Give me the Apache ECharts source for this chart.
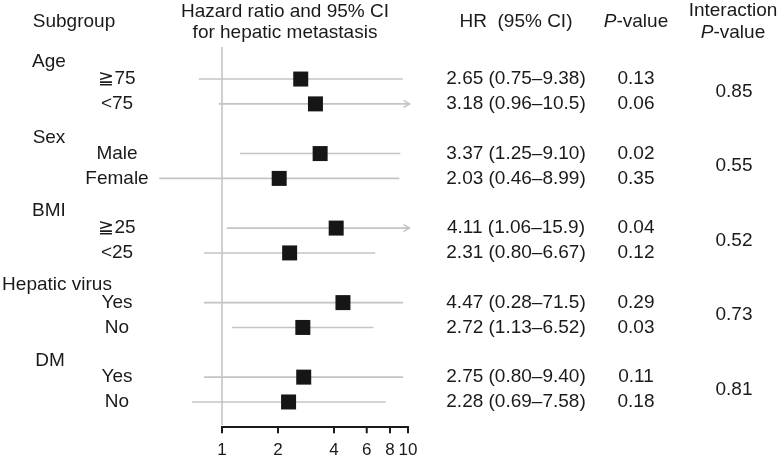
<!DOCTYPE html>
<html>
<head>
<meta charset="utf-8">
<script src="https://cdn.jsdelivr.net/npm/echarts@6/dist/echarts.min.js"></script>
<style>
html,body{margin:0;padding:0;background:#fff;}
#chart{width:778px;height:460px;}
</style>
</head>
<body>
<div id="chart"></div>
<script>
// ---- data ----
const groups = ['Age', 'Sex', 'BMI', 'Hepatic virus', 'DM'];
const groupRows = [-0.68, 2.35, 5.32, 8.3, 11.36];
const subgroups = ['≧75', '<75', 'Male', 'Female', '≧25', '<25', 'Yes', 'No', 'Yes', 'No'];
const rowIdx = [0, 1, 3, 4, 6, 7, 9, 10, 12, 13];
const hr = [2.65, 3.18, 3.37, 2.03, 4.11, 2.31, 4.47, 2.72, 2.75, 2.28];
// CI whiskers as drawn in the picture
const ciLow = [0.75, 0.96, 1.25, 0.46, 1.06, 0.80, 0.80, 1.13, 0.80, 0.69];
const ciHigh = [9.38, 10.5, 9.10, 8.99, 15.9, 6.67, 9.40, 6.52, 9.40, 7.58];
const hrText = ['2.65 (0.75–9.38)', '3.18 (0.96–10.5)', '3.37 (1.25–9.10)', '2.03 (0.46–8.99)',
  '4.11 (1.06–15.9)', '2.31 (0.80–6.67)', '4.47 (0.28–71.5)', '2.72 (1.13–6.52)',
  '2.75 (0.80–9.40)', '2.28 (0.69–7.58)'];
const pValues = ['0.13', '0.06', '0.02', '0.35', '0.04', '0.12', '0.29', '0.03', '0.11', '0.18'];
const interP = ['0.85', '0.55', '0.52', '0.73', '0.81'];
const interRows = [0.5, 3.5, 6.5, 9.5, 12.5];
const xTicks = [1, 2, 4, 6, 8, 10];

// ---- layout ----
const FONT = '"Liberation Sans", Arial, Helvetica, sans-serif';
const TXT = '#1a1a1a';
const GRAY = '#c4c4c4';
const AXIS_COLOR = '#1a1a1a';
const AX_LEFT = 222, AX_W = 186;      // pixel position of 1 and width of one decade
const X_MIN = 0.4, X_MAX = 12, AXIS_MIN = 1, AXIS_MAX = 10, ARROW_CAP = 10.2;
const Y_MIN = -1.29, Y_MAX = 14.37;   // row units (24.84 px per row)
const REF_END = 13.93, AXIS_ROW = 14.01, TICK_ROWS = 0.25;
const GRID_TOP = 47, GRID_H = 389;
const gridLeft = AX_LEFT + Math.log10(X_MIN) * AX_W;
const gridWidth = (Math.log10(X_MAX) - Math.log10(X_MIN)) * AX_W;
const groupX = [49, 49, 49, 57, 50];
const SUB_X = 117, HR_X = 516, P_X = 636, INT_X = 734;
const BODY = 19, HEAD = 19;
const AX_LW = 2;

const chart = echarts.init(document.getElementById('chart'));

function txt(x, y, s, size, align) {
  return {type: 'text', x: x, y: y, style: {text: s, fill: TXT, font: size + 'px ' + FONT, align: align || 'center', verticalAlign: 'middle'}};
}
function pval(x, y) {
  return {type: 'text', x: x, y: y, style: {
    rich: {i: {fontStyle: 'italic', fontSize: HEAD, fontFamily: FONT, fill: TXT}, n: {fontSize: HEAD, fontFamily: FONT, fill: TXT}},
    text: '{i|P}{n|-value}', align: 'center', verticalAlign: 'middle'}};
}

const option = {
  animation: false,
  backgroundColor: '#fff',
  grid: [{left: gridLeft, width: gridWidth, top: GRID_TOP, height: GRID_H}],
  xAxis: [
    {type: 'log', min: X_MIN, max: X_MAX,
      axisLine: {show: false}, axisTick: {show: false}, splitLine: {show: false},
      axisLabel: {customValues: xTicks, color: TXT, fontSize: 17, fontFamily: FONT, margin: 6}}
  ],
  yAxis: [
    {type: 'value', inverse: true, min: Y_MIN, max: Y_MAX, show: false}
  ],
  graphic: [
    {type: 'group', children: [
      txt(74, 22, 'Subgroup', HEAD, 'center'),
      txt(285, 12, 'Hazard ratio and 95% CI', HEAD, 'center'),
      txt(285, 33, 'for hepatic metastasis', HEAD, 'center'),
      txt(516, 22, 'HR  (95% CI)', HEAD, 'center'),
      pval(636, 22),
      txt(733, 11, 'Interaction', HEAD, 'center'),
      pval(733, 33)
    ]}
  ],
  series: [
    {
      type: 'scatter', z: 5,
      symbol: 'rect', symbolSize: 15,
      itemStyle: {color: '#161616', opacity: 1},
      data: rowIdx.map((r, i) => [hr[i], r])
    },
    {
      // CI whiskers
      type: 'custom', clip: false,
      data: rowIdx.map((r, i) => [ciLow[i], ciHigh[i], r]),
      renderItem: function (params, api) {
        const lo = api.value(0), hi = api.value(1), r = api.value(2);
        const p1 = api.coord([lo, r]);
        const p2 = api.coord([Math.min(hi, ARROW_CAP), r]);
        const ch = [{type: 'line', shape: {x1: p1[0], y1: p1[1], x2: p2[0], y2: p2[1]}, style: {stroke: GRAY, lineWidth: 1.6}}];
        if (hi > AXIS_MAX) {
          ch.push({type: 'polyline', shape: {points: [[p2[0] - 6, p2[1] - 3.5], [p2[0], p2[1]], [p2[0] - 6, p2[1] + 3.5]]}, style: {stroke: GRAY, lineWidth: 1.4, fill: null}});
        }
        return {type: 'group', children: ch};
      }
    },
    {
      // reference line at HR = 1
      type: 'custom', clip: false,
      data: [[1, Y_MIN, REF_END]],
      renderItem: function (params, api) {
        const a = api.coord([api.value(0), api.value(1)]);
        const b = api.coord([api.value(0), api.value(2)]);
        return {type: 'line', shape: {x1: a[0], y1: a[1], x2: b[0], y2: b[1]}, style: {stroke: GRAY, lineWidth: 1.6}};
      }
    },
    {
      // x axis ticks (filled bars) through the log scale
      type: 'custom', clip: false, z: 4,
      data: xTicks.map(v => [v, AXIS_ROW, AXIS_ROW + TICK_ROWS]),
      renderItem: function (params, api) {
        const a = api.coord([api.value(0), api.value(1)]);
        const b = api.coord([api.value(0), api.value(2)]);
        return {type: 'rect', shape: {x: a[0] - AX_LW / 2, y: a[1] - AX_LW / 2, width: AX_LW, height: b[1] - a[1] + AX_LW / 2},
          style: {fill: AXIS_COLOR}};
      }
    },
    {
      // x axis line from 1 to 10 (filled bar)
      type: 'custom', clip: false, z: 4,
      data: [[AXIS_MIN, AXIS_MAX, AXIS_ROW]],
      renderItem: function (params, api) {
        const a = api.coord([api.value(0), api.value(2)]);
        const b = api.coord([api.value(1), api.value(2)]);
        return {type: 'rect', shape: {x: a[0] - AX_LW / 2, y: a[1] - AX_LW / 2, width: b[0] - a[0] + AX_LW, height: AX_LW},
          style: {fill: AXIS_COLOR}};
      }
    },
    {
      type: 'custom', clip: false,
      data: rowIdx.map(r => [1, r]),
      renderItem: function (params, api) {
        const i = params.dataIndex;
        const y = api.coord([1, api.value(1)])[1];
        return {type: 'group', children: [
          txt(SUB_X, y, subgroups[i], BODY, 'center'),
          txt(HR_X, y, hrText[i], BODY, 'center'),
          txt(P_X, y, pValues[i], BODY, 'center')
        ]};
      }
    },
    {
      type: 'custom', clip: false,
      data: groupRows.map(r => [1, r]),
      renderItem: function (params, api) {
        const i = params.dataIndex;
        const y = api.coord([1, api.value(1)])[1];
        return txt(groupX[i], y, groups[i], BODY, 'center');
      }
    },
    {
      type: 'custom', clip: false,
      data: interRows.map(r => [1, r]),
      renderItem: function (params, api) {
        const i = params.dataIndex;
        const y = api.coord([1, api.value(1)])[1];
        return txt(INT_X, y, interP[i], BODY, 'center');
      }
    }
  ]
};
chart.setOption(option);
</script>
</body>
</html>
